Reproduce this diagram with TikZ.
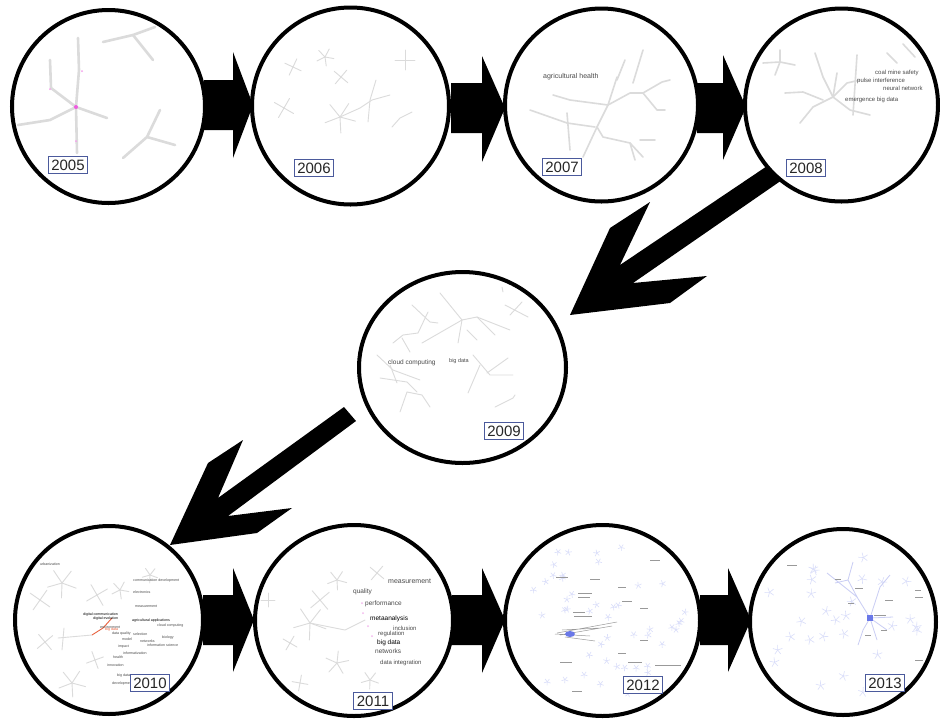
\documentclass[tikz,border=0pt]{standalone}
\usepackage{fontspec}
\setmainfont{Liberation Sans}
\usetikzlibrary{shapes.geometric}
\definecolor{treegray}{HTML}{DBDBDB}
\definecolor{boxblue}{HTML}{4B5A9C}
\definecolor{lblue}{HTML}{C9CDF4}
\definecolor{paleblue}{HTML}{DADEFA}
\definecolor{midblue}{HTML}{6A78E8}
\definecolor{pinkdot}{HTML}{EE5CE0}
\definecolor{redline}{HTML}{E8603C}
\definecolor{txtgray}{HTML}{4A4A4A}
\definecolor{lightpink}{HTML}{F4B8EE}
\newcommand{\gstar}[6]{\foreach \k in {1,...,#5}{\draw[#6] ({#1},{#2}) -- ++(\k*360/#5+#4:#3);}}
\tikzset{
 yearcirc/.style={ellipse, draw=black, line width=4pt, fill=white, inner sep=0pt},
 yearlbl/.style={draw=boxblue, line width=0.9pt, fill=white, inner xsep=3pt, inner ysep=3pt, text height=11pt, text depth=0pt, font=\fontsize{15}{15}\selectfont, text=black!85},
 blockarrow/.style={fill=black},
 gthick/.style={draw=treegray, line width=2.6pt, line cap=round, line join=round},
 gtree/.style={draw=treegray, line width=0.9pt, line cap=round, line join=round},
 gmid/.style={draw=treegray, line width=1.6pt, line cap=round, line join=round},
 bluestar/.style={draw=lblue, line width=0.7pt},
 palestar/.style={draw=paleblue, line width=0.6pt},
 kw/.style={inner sep=0pt, anchor=west, text=txtgray, font=\fontsize{6}{6}\selectfont},
 kwb/.style={inner sep=0pt, anchor=west, text=txtgray, font=\fontsize{6.5}{6.5}\selectfont},
 tinykw/.style={inner sep=0pt, anchor=west, text=txtgray, font=\fontsize{3.6}{3.6}\selectfont},
 txtdash/.style={draw=black!40, line width=0.6pt},
}
\begin{document}
\begin{tikzpicture}[x=1pt,y=-1pt]
\useasboundingbox (0,0) rectangle (940,721);
\fill[white] (0,0) rectangle (940,721);

% ---------- block arrows ----------
\fill[blockarrow] (204,80) -- (233,80) -- (233,52) -- (253,105) -- (233,158) -- (233,130) -- (204,130) -- cycle;
\fill[blockarrow] (451,83) -- (482,83) -- (482,56) -- (505,108) -- (482,162) -- (482,133) -- (451,133) -- cycle;
\fill[blockarrow] (697,83) -- (723,83) -- (723,55) -- (746,107) -- (723,160) -- (723,133) -- (697,133) -- cycle;
\fill[blockarrow] (782,156) -- (620,265) -- (650,202) -- (610,228) -- (570,315) -- (670,303) -- (707,276) -- (633,283) -- (795,171) -- cycle;
\fill[blockarrow] (344,407) -- (218,498) -- (243,440) -- (208,463) -- (170,545) -- (257,533) -- (292,508) -- (228,516) -- (356,421) -- cycle;
\fill[blockarrow] (203,595) -- (233,595) -- (233,568) -- (254,620) -- (233,672) -- (233,645) -- (203,645) -- cycle;
\fill[blockarrow] (452,595) -- (482,595) -- (482,568) -- (505,620) -- (482,673) -- (482,645) -- (452,645) -- cycle;
\fill[blockarrow] (700,595) -- (728,595) -- (728,568) -- (751,620) -- (728,672) -- (728,645) -- (700,645) -- cycle;

% ---------- circles ----------
\node[yearcirc, minimum width=193pt, minimum height=193pt] (c2005) at (108.5,106.5) {};
\node[yearcirc, minimum width=197pt, minimum height=197pt] (c2006) at (350.5,106) {};
\node[yearcirc, minimum width=193pt, minimum height=193pt] (c2007) at (601.5,105) {};
\node[yearcirc, minimum width=193pt, minimum height=193pt] (c2008) at (841.5,105) {};
\node[yearcirc, minimum width=207pt, minimum height=191pt] (c2009) at (462.5,367.5) {};
\node[yearcirc, minimum width=188pt, minimum height=188pt] (c2010) at (109,620) {};
\node[yearcirc, minimum width=198pt, minimum height=191pt] (c2011) at (354,620.5) {};
\node[yearcirc, minimum width=195pt, minimum height=191pt] (c2012) at (602.5,620.5) {};
\node[yearcirc, minimum width=186pt, minimum height=186pt] (c2013) at (843,622) {};

% ---------- 2005 ----------
\draw[gthick] (78,38) -- (79,70) -- (76,107) -- (77,153);
\draw[gthick] (76,107) -- (107,118);
\draw[gthick] (50,60) -- (51,88) -- (76,107);
\draw[gthick] (76,107) -- (50,120) -- (18,125);
\draw[gthick] (103,42) -- (133,35) -- (155,27);
\draw[gthick] (133,35) -- (153,60);
\draw[gthick] (160,110) -- (147,137) -- (123,158);
\draw[gthick] (147,137) -- (175,145);
\fill[pinkdot] (76,107) circle (2pt);
\fill[pinkdot!60] (82,71) circle (1pt) (50,89) circle (1pt) (76,141) circle (1pt);

% ---------- 2006 ----------
\gstar{293}{67}{9}{25}{4}{gtree}
\gstar{325}{57}{9}{10}{5}{gtree}
\gstar{341}{77}{9}{40}{4}{gtree}
\gstar{405}{60}{10}{0}{4}{gtree}
\gstar{284}{108}{11}{30}{4}{gtree}
\gstar{340}{117}{16}{15}{5}{gtree}
\draw[gtree] (340,117) -- (360,108) -- (372,100) -- (390,95);
\draw[gtree] (376,80) -- (370,100) -- (368,122);
\draw[gtree] (392,127) -- (400,118) -- (412,112);

% ---------- 2007 ----------
\draw[gmid] (530,110) -- (567,123) -- (595,127);
\draw[gmid] (553,95) -- (570,100) -- (608,105) -- (630,93) -- (643,93) -- (662,82) -- (670,80);
\draw[gmid] (643,93) -- (657,110) -- (665,110);
\draw[gmid] (608,105) -- (597,127) -- (583,157);
\draw[gmid] (597,127) -- (603,137) -- (630,143) -- (643,157);
\draw[gmid] (617,77) -- (608,105);
\draw[gmid] (643,50) -- (633,83);
\draw[gmid] (567,113) -- (570,150);
\draw[gmid] (625,60) -- (617,80);
\draw[gmid] (640,140) -- (655,140);
\draw[gmid] (630,143) -- (635,160);
\node[kwb, font=\fontsize{7}{7}\selectfont] (t2007) at (543,77) {agricultural health};

% ---------- 2008 ----------
\draw[gmid] (763,63) -- (780,62) -- (795,65);
\draw[gmid] (780,50) -- (780,62) -- (775,75);
\draw[gmid] (815,53) -- (823,77) -- (833,97) -- (850,110) -- (870,115);
\draw[gmid] (833,97) -- (813,107) -- (800,123);
\draw[gmid] (833,97) -- (847,83) -- (860,80);
\draw[gmid] (837,73) -- (833,97);
\draw[gmid] (785,93) -- (803,92) -- (823,100);
\draw[gmid] (857,55) -- (853,115);
\draw[gmid] (887,53) -- (897,63);
\draw[gmid] (903,44) -- (915,57);
\node[kw] (t2008a) at (875,73) {coal mine safety};
\node[kw] (t2008b) at (857,81) {pulse interference};
\node[kw] (t2008c) at (883,88) {neural network};
\node[kw] (t2008d) at (845,100) {emergence big data};

% ---------- 2009 ----------
\draw[gtree] (440,293) -- (462,320) -- (458,343);
\draw[gtree] (462,320) -- (422,343);
\draw[gtree] (462,320) -- (477,317) -- (510,330);
\draw[gtree] (477,317) -- (495,335);
\draw[gtree] (467,330) -- (477,340);
\draw[gtree] (412,305) -- (430,322) -- (438,323);
\draw[gtree] (428,312) -- (418,333) -- (403,335) -- (393,343);
\draw[gtree] (402,338) -- (410,352);
\draw[gtree] (505,305) -- (528,317);
\draw[gtree] (522,302) -- (510,315);
\draw[gtree] (502,287) -- (503,292);
\draw[gtree] (377,355) -- (393,370) -- (420,380);
\draw[gtree] (380,378) -- (407,382) -- (417,392);
\draw[gtree] (407,392) -- (400,412);
\draw[gtree] (407,392) -- (422,395) -- (430,407);
\draw[gtree] (390,365) -- (397,383);
\draw[gtree] (473,355) -- (490,375) -- (513,375);
\draw[gtree] (480,365) -- (468,393);
\draw[gtree] (508,358) -- (487,373);
\draw[gtree] (495,407) -- (513,398) -- (515,395);
\node[kwb] (t2009a) at (388,363) {cloud computing};
\node[kw, font=\fontsize{5.5}{5.5}\selectfont] (t2009b) at (449,361) {big data};

% ---------- 2010 ----------
\gstar{62}{583}{15}{20}{5}{gtree}
\gstar{97}{595}{12}{60}{4}{gtree}
\gstar{40}{600}{12}{35}{4}{gtree}
\gstar{120}{590}{9}{10}{5}{gtree}
\gstar{45}{642}{10}{50}{4}{gtree}
\gstar{72}{683}{14}{15}{5}{gtree}
\gstar{95}{660}{9}{70}{4}{gtree}
\gstar{150}{575}{8}{20}{5}{gtree}
\draw[gtree] (58,638) -- (92,635);
\draw[gtree] (64,628) -- (62,650);
\draw[redline, line width=0.9pt] (92,635) -- (103,628) -- (112,618);
\node[tinykw] (t10a) at (40,564) {urbanization};
\node[tinykw] (t10b) at (133,581) {communication development};
\node[tinykw] (t10c) at (133,592) {electronics};
\node[tinykw] (t10d) at (135,606) {measurement};
\node[tinykw, text=black] (t10e) at (83,615) {digital communication};
\node[tinykw, text=black] (t10f) at (93,619) {digital evolution};
\node[tinykw, text=black] (t10g) at (132,621) {agricultural applications};
\node[tinykw] (t10h) at (157,626) {cloud computing};
\node[tinykw] (t10i) at (100,627) {environment};
\node[tinykw, text=redline] (t10j) at (105,630) {big data};
\node[tinykw] (t10k) at (112,634) {data quality};
\node[tinykw] (t10l) at (133,634) {selection};
\node[tinykw] (t10m) at (162,638) {biology};
\node[tinykw] (t10n) at (122,639) {model};
\node[tinykw] (t10o) at (140,641) {networks};
\node[tinykw] (t10p) at (147,645) {information science};
\node[tinykw] (t10q) at (118,647) {impact};
\node[tinykw] (t10r) at (123,653) {informatization};
\node[tinykw] (t10s) at (113,657) {health};
\node[tinykw] (t10t) at (107,665) {innovation};
\node[tinykw] (t10u) at (117,676) {big data};
\node[tinykw] (t10v) at (112,684) {development};

% ---------- 2011 ----------
\gstar{310}{623}{17}{20}{5}{gtree}
\gstar{320}{600}{12}{50}{4}{gtree}
\gstar{337}{580}{10}{15}{5}{gtree}
\gstar{290}{643}{8}{30}{4}{gtree}
\gstar{337}{663}{12}{60}{5}{gtree}
\gstar{300}{683}{8}{10}{4}{gtree}
\gstar{377}{573}{9}{40}{4}{gtree}
\gstar{370}{680}{9}{20}{5}{gtree}
\gstar{268}{600}{7}{0}{4}{gtree}
\draw[gtree] (310,623) -- (345,630) -- (365,620);
\fill[lightpink] (362,603) circle (1pt) (363,613) circle (1pt) (372,636) circle (1pt) (368,626) circle (1pt);
\node[kwb, font=\fontsize{7}{7}\selectfont] (t11a) at (388,581) {measurement};
\node[kwb] (t11b) at (353,592) {quality};
\node[kwb] (t11c) at (365,604) {performance};
\node[kwb, text=black] (t11d) at (370,619) {metaanalysis};
\node[kw] (t11e) at (393,628) {inclusion};
\node[kw] (t11f) at (378,634) {regulation};
\node[kwb, text=black] (t11g) at (377,643) {big data};
\node[kwb] (t11h) at (375,651) {networks};
\node[kw] (t11i) at (380,663) {data integration};

% ---------- 2012 ----------
\pgfmathsetseed{11}
\foreach \i in {1,...,46}{
  \pgfmathsetmacro{\ang}{rnd*360}
  \pgfmathsetmacro{\rad}{sqrt(rnd)*84}
  \pgfmathsetmacro{\rot}{rnd*70}
  \gstar{602.5+\rad*cos(\ang)}{620.5+\rad*sin(\ang)}{3.5}{\rot}{5}{palestar}
}
\foreach \xa/\ya/\wa in {556/577/12, 590/579/10, 578/593/14, 618/587/8, 622/601/10, 573/612/12, 574/616/18, 640/608/8, 628/662/14, 655/665/26, 560/662/12, 572/691/10, 650/560/10, 640/640/8, 618/653/8, 578/597/12}{
  \draw[txtdash] (\xa,\ya) -- ++(\wa,0);
}
\draw[black!40, line width=0.5pt] (557,633) -- (617,622) (560,635) -- (612,626) (562,630) -- (600,628) (565,637) -- (595,641) (555,634) -- (590,636);
\fill[midblue] (570,634) ellipse (5 and 3);

% ---------- 2013 ----------
\pgfmathsetseed{23}
\foreach \i in {1,...,28}{
  \pgfmathsetmacro{\ang}{rnd*360}
  \pgfmathsetmacro{\rad}{sqrt(rnd)*80}
  \pgfmathsetmacro{\rot}{rnd*70}
  \gstar{843+\rad*cos(\ang)}{622+\rad*sin(\ang)}{5}{\rot}{5}{palestar}
}
\draw[bluestar, line width=0.8pt] (870,618) -- (857,597) -- (848,580) -- (853,562);
\draw[bluestar, line width=0.8pt] (857,597) -- (827,573);
\draw[bluestar, line width=0.8pt] (870,618) -- (880,587) -- (890,575);
\draw[bluestar, line width=0.8pt] (870,618) -- (893,617);
\draw[bluestar, line width=0.8pt] (870,618) -- (887,630);
\draw[bluestar, line width=0.8pt] (870,618) -- (877,640);
\draw[bluestar, line width=0.8pt] (870,618) -- (863,630) -- (858,645);
\draw[bluestar, line width=0.8pt] (848,580) -- (835,583);
\foreach \xa/\ya/\wa in {787/565/10, 835/579/6, 855/588/8, 848/603/6, 885/600/8, 865/635/6, 881/630/6, 915/597/8, 915/590/6, 915/660/8, 874/615/12}{
  \draw[txtdash] (\xa,\ya) -- ++(\wa,0);
}
\fill[midblue] (867,615) rectangle (873,621);

% ---------- year labels ----------
\node[yearlbl] (y2005) at (68,165) {2005};
\node[yearlbl] (y2006) at (314,168) {2006};
\node[yearlbl] (y2007) at (562,167) {2007};
\node[yearlbl] (y2008) at (806,168) {2008};
\node[yearlbl] (y2009) at (504,431) {2009};
\node[yearlbl] (y2010) at (150,683) {2010};
\node[yearlbl] (y2011) at (373,701) {2011};
\node[yearlbl] (y2012) at (643,685) {2012};
\node[yearlbl] (y2013) at (885,683) {2013};
\end{tikzpicture}
\end{document}
